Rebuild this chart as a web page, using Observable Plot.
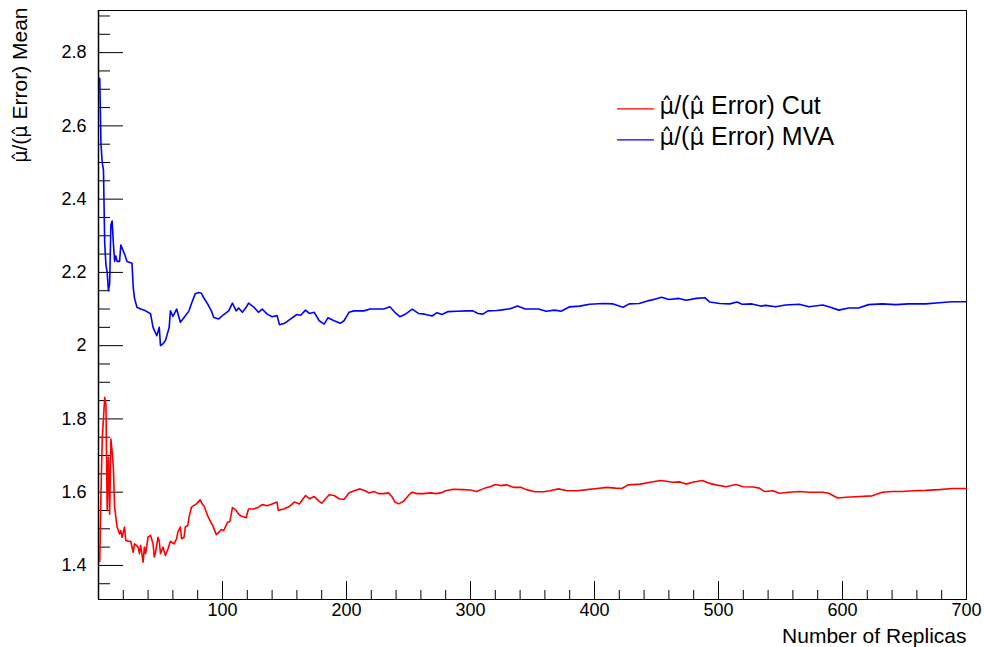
<!DOCTYPE html>
<html>
<head>
<meta charset="utf-8">
<script src="https://cdn.jsdelivr.net/npm/d3@7"></script>
<script src="https://cdn.jsdelivr.net/npm/@observablehq/plot@0.6"></script>
<style>
  html, body { margin: 0; padding: 0; background: #fff; }
  #chart svg { display: block; }
</style>
</head>
<body>
<div id="chart"></div>
<script>
// ---- data ----
const mvaN = [1,2,3,4,5,6,7,8,9,10,11,12,13,14,15,17,18,21,23,27,28,29,31,34,38,42,44,47,49,50,52,54,57,58,60,63,66,69,73,75,78,81,83,85,88,91,93,97,101,105,108,111,113,116,119,121,125,129,132,136,140,144,146,150,155,160,163,167,170,174,178,182,185,190,195,198,202,206,214,219,225,230,235,239,243,247,253,258,263,269,273,277,282,289,297,302,306,310,314,321,324,332,338,344,350,355,361,368,373,380,388,396,407,415,423,428,436,444,450,454,460,468,474,482,489,493,501,509,515,519,527,534,538,546,554,565,573,584,589,597,605,613,621,632,643,653,667,678,688,698,700];
const mvaV = [2.73,2.55,2.50,2.48,2.28,2.22,2.20,2.15,2.17,2.33,2.34,2.28,2.23,2.245,2.23,2.23,2.275,2.25,2.23,2.225,2.16,2.13,2.105,2.10,2.095,2.087,2.05,2.027,2.05,2.0,2.005,2.014,2.05,2.095,2.08,2.10,2.064,2.077,2.095,2.115,2.142,2.145,2.143,2.13,2.114,2.095,2.077,2.073,2.085,2.095,2.116,2.095,2.103,2.091,2.104,2.116,2.106,2.091,2.10,2.086,2.079,2.082,2.057,2.061,2.073,2.085,2.083,2.097,2.088,2.091,2.068,2.059,2.076,2.068,2.061,2.068,2.091,2.095,2.095,2.10,2.10,2.10,2.106,2.091,2.079,2.085,2.10,2.088,2.086,2.081,2.09,2.085,2.093,2.094,2.095,2.095,2.088,2.086,2.095,2.096,2.097,2.101,2.108,2.10,2.10,2.10,2.094,2.097,2.094,2.106,2.108,2.113,2.115,2.114,2.105,2.114,2.115,2.123,2.128,2.132,2.126,2.129,2.124,2.129,2.131,2.119,2.115,2.114,2.119,2.113,2.114,2.108,2.11,2.106,2.111,2.113,2.106,2.111,2.106,2.097,2.103,2.103,2.112,2.114,2.112,2.114,2.114,2.117,2.12,2.12,2.12];

const cutN = [1,2,3,4,5,6,7,8,9,10,11,12,13,14,15,17,18,19,21,22,24,26,28,29,32,33,34,36,37,38,40,42,44,45,46,48,49,50,52,54,56,58,61,63,64,66,67,69,70,72,73,75,77,79,82,84,85,87,88,91,92,95,97,99,101,104,106,108,111,113,115,119,121,125,129,132,136,140,144,145,150,154,158,162,164,167,170,174,178,180,186,190,194,198,202,206,211,215,218,222,226,230,234,237,239,242,246,250,253,257,262,268,272,276,280,286,294,300,305,310,313,316,320,324,329,335,341,345,352,359,364,371,378,386,394,402,410,417,422,427,437,445,453,458,463,469,474,479,487,493,498,506,514,520,528,533,537,544,549,557,565,573,584,589,596,603,614,624,632,640,648,657,667,678,689,698,700];
const cutV = [1.41,1.595,1.745,1.80,1.859,1.84,1.55,1.695,1.54,1.745,1.71,1.668,1.559,1.532,1.505,1.486,1.495,1.477,1.505,1.468,1.466,1.466,1.436,1.459,1.45,1.432,1.455,1.409,1.45,1.432,1.477,1.482,1.459,1.423,1.436,1.477,1.466,1.432,1.45,1.427,1.445,1.466,1.459,1.473,1.491,1.505,1.473,1.477,1.505,1.509,1.532,1.559,1.564,1.568,1.579,1.566,1.563,1.545,1.536,1.515,1.51,1.484,1.49,1.498,1.495,1.518,1.52,1.558,1.55,1.54,1.535,1.53,1.554,1.554,1.559,1.566,1.563,1.568,1.573,1.55,1.555,1.561,1.573,1.568,1.577,1.591,1.582,1.588,1.575,1.57,1.593,1.591,1.582,1.58,1.598,1.604,1.609,1.604,1.598,1.602,1.596,1.596,1.598,1.586,1.573,1.568,1.575,1.591,1.60,1.596,1.596,1.598,1.596,1.598,1.604,1.608,1.607,1.606,1.602,1.609,1.613,1.615,1.621,1.618,1.62,1.613,1.613,1.607,1.601,1.601,1.604,1.609,1.604,1.604,1.607,1.61,1.613,1.611,1.61,1.62,1.622,1.627,1.632,1.63,1.627,1.628,1.622,1.627,1.632,1.624,1.62,1.615,1.621,1.615,1.614,1.611,1.602,1.604,1.597,1.60,1.602,1.60,1.60,1.597,1.584,1.586,1.588,1.59,1.60,1.602,1.602,1.604,1.605,1.607,1.61,1.61,1.61];

const xMajorTicks = [100,200,300,400,500,600,700];
const xMinorTicks = d3.range(20, 701, 20).filter(v => v % 100 !== 0);
const yMajorTicks = [1.4,1.6,1.8,2.0,2.2,2.4,2.6,2.8];
const yMinorTicks = d3.range(1.35, 2.92, 0.05).map(v => +v.toFixed(2)).filter(v => Math.abs(v*5 - Math.round(v*5)) > 1e-6);

const muHat = "\u03BC\u0302";
const seriesNames = [muHat + "/(" + muHat + " Error) Cut", muHat + "/(" + muHat + " Error) MVA"];
const seriesColors = ["#ff0000", "#0000ff"];
const xTitle = "Number of Replicas";
const yTitle = muHat + "/(" + muHat + " Error) Mean";

// ---- build ----
const W = 984, H = 647;
const mL = 98, mR = 18, mT = 10, mB = 48;
const pw = W - mL - mR, ph = H - mT - mB;
const font = "'Liberation Sans', Arial, Helvetica, sans-serif";

const cutData = cutN.map((n, i) => ({n, v: cutV[i]}));
const mvaData = mvaN.map((n, i) => ({n, v: mvaV[i]}));

const lineShape = { draw(context, l) { context.moveTo(0, 0); context.lineTo(l, 0); } };

const legendMarks = seriesNames.flatMap((name, i) => [
  Plot.vector([name], { frameAnchor: "top-left", dx: 519, dy: 98.3 + i * 31, length: 36, rotate: 0, anchor: "start", shape: lineShape, stroke: seriesColors[i], strokeWidth: 1.2 }),
  Plot.text([name], { text: d => d, frameAnchor: "top-left", dx: 561, dy: 95.5 + i * 31, fill: "#000", fontSize: 25, textAnchor: "start", lineAnchor: "middle" })
]);

const chart = Plot.plot({
  width: W, height: H,
  marginLeft: mL, marginRight: mR, marginTop: mT, marginBottom: mB,
  style: { fontFamily: font, background: "#fff", color: "#000" },
  x: { domain: [0, 700] },
  y: { domain: [1.307, 2.915] },
  marks: [
    Plot.frame({ stroke: "#000", strokeWidth: 1 }),
    Plot.ruleX([0], { stroke: "#000", strokeWidth: 1.5 }),
    Plot.axisX(xMajorTicks, { tickSize: 0, tickPadding: 4, fontSize: 18, label: null, tickFormat: d => String(d) }),
    Plot.axisY(yMajorTicks, { tickSize: 0, tickPadding: 12, fontSize: 18, label: null, tickFormat: d => (Math.round(d*10) % 10 === 0 ? String(Math.round(d)) : d.toFixed(1)) }),
    Plot.tickX(xMajorTicks, { x: d => d, insetTop: ph - 18, stroke: "#000" }),
    Plot.tickX(xMinorTicks, { x: d => d, insetTop: ph - 9, stroke: "#000" }),
    Plot.tickY(yMajorTicks, { y: d => d, insetRight: pw - 25, stroke: "#000" }),
    Plot.tickY(yMinorTicks, { y: d => d, insetRight: pw - 12, stroke: "#000" }),
    Plot.line(cutData, { x: "n", y: "v", stroke: seriesColors[0], strokeWidth: 1.6 }),
    Plot.line(mvaData, { x: "n", y: "v", stroke: seriesColors[1], strokeWidth: 1.6 }),
    ...legendMarks,
    Plot.text([xTitle], { text: d => d, frameAnchor: "bottom-right", dx: 0, dy: 29, lineAnchor: "top", textAnchor: "end", fontSize: 21, fill: "#000" }),
    Plot.text([yTitle], { text: d => d, frameAnchor: "top-left", dx: -78, dy: -3, rotate: -90, textAnchor: "end", lineAnchor: "middle", fontSize: 21, fill: "#000" })
  ]
});
document.getElementById("chart").appendChild(chart);

// render the hatted mu with a font that positions the combining circumflex over it
d3.select(chart).selectAll("text").filter(function() { return this.textContent.includes(muHat); }).each(function() {
  const txt = this.textContent;
  const parts = txt.split(muHat);
  const el = d3.select(this);
  el.text(null);
  parts.forEach((p, k) => {
    if (k > 0) el.append("tspan").attr("font-family", "'DejaVu Sans'").attr("font-size", "0.92em").text(muHat);
    if (p) el.append("tspan").text(p);
  });
});
</script>
</body>
</html>
